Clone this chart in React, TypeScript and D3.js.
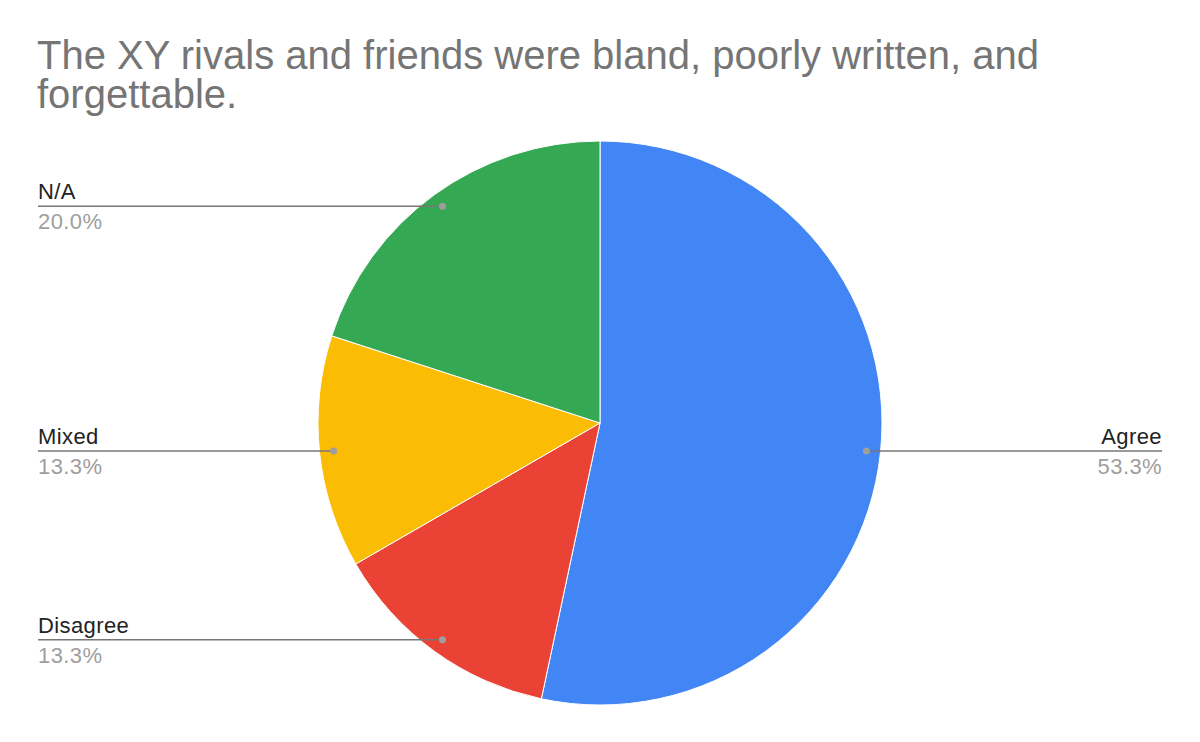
import React, { useRef, useEffect } from 'react';
import * as d3 from 'd3';

const WIDTH = 1200;
const HEIGHT = 742;

const titleLines = ['The XY rivals and friends were bland, poorly written, and', 'forgettable.'];
const categories = ['Agree', 'Disagree', 'Mixed', 'N/A'];
const counts = [8, 2, 2, 3];
const colors = ['#4285f4', '#ea4335', '#fbbc04', '#34a853'];

const App: React.FC = () => {
  const svgRef = useRef<SVGSVGElement>(null);

  useEffect(() => {
    if (!svgRef.current) return;
    const svg = d3.select(svgRef.current);
    svg.selectAll('*').remove();

    svg.append('rect').attr('width', WIDTH).attr('height', HEIGHT).attr('fill', '#fff');

    const font = 'Liberation Sans, Arial, sans-serif';

    // Title (two lines, tight leading like the original)
    const title = svg.append('text')
      .attr('font-family', font)
      .attr('font-size', 40)
      .attr('fill', '#757575');
    titleLines.forEach((t, i) => {
      title.append('tspan').attr('x', 37).attr('y', 69 + i * 39).text(t);
    });

    const cx = 600;
    const cy = 423;
    const radius = 282;
    const total = d3.sum(counts);

    const pie = d3.pie<number>().sort(null).value(d => d);
    const arcs = pie(counts);
    const arc = d3.arc<d3.PieArcDatum<number>>().innerRadius(0).outerRadius(radius);

    const g = svg.append('g').attr('transform', `translate(${cx},${cy})`);
    g.selectAll('path.slice')
      .data(arcs)
      .join('path')
      .attr('class', 'slice')
      .attr('d', arc)
      .attr('fill', (_, i) => colors[i])
      .attr('stroke', '#fff')
      .attr('stroke-width', 1);

    // Leader lines and labels
    arcs.forEach((a, i) => {
      const angle = (a.startAngle + a.endAngle) / 2;
      const px = cx + Math.sin(angle) * radius * 0.95;
      const py = cy - Math.cos(angle) * radius * 0.95;
      const right = Math.sin(angle) > 0;
      const lineEnd = right ? 1162 : 38;

      svg.append('line')
        .attr('x1', px).attr('y1', py)
        .attr('x2', lineEnd).attr('y2', py)
        .attr('stroke', '#777')
        .attr('stroke-width', 1.5);
      svg.append('circle')
        .attr('cx', px).attr('cy', py).attr('r', 3.5)
        .attr('fill', '#9e9e9e');

      const anchor = right ? 'end' : 'start';
      svg.append('text')
        .attr('x', lineEnd).attr('y', py - 7)
        .attr('text-anchor', anchor)
        .attr('font-family', font)
        .attr('font-size', 22)
        .attr('letter-spacing', 0.4)
        .attr('fill', '#222')
        .text(categories[i]);
      svg.append('text')
        .attr('x', lineEnd).attr('y', py + 23)
        .attr('text-anchor', anchor)
        .attr('font-family', font)
        .attr('font-size', 22)
        .attr('letter-spacing', 0.4)
        .attr('fill', '#9e9e9e')
        .text(d3.format('.1%')(counts[i] / total));
    });
  }, []);

  return (
    <svg
      ref={svgRef}
      width={WIDTH}
      height={HEIGHT}
      style={{ position: 'absolute', top: 0, left: 0, display: 'block' }}
    />
  );
};

export default App;
